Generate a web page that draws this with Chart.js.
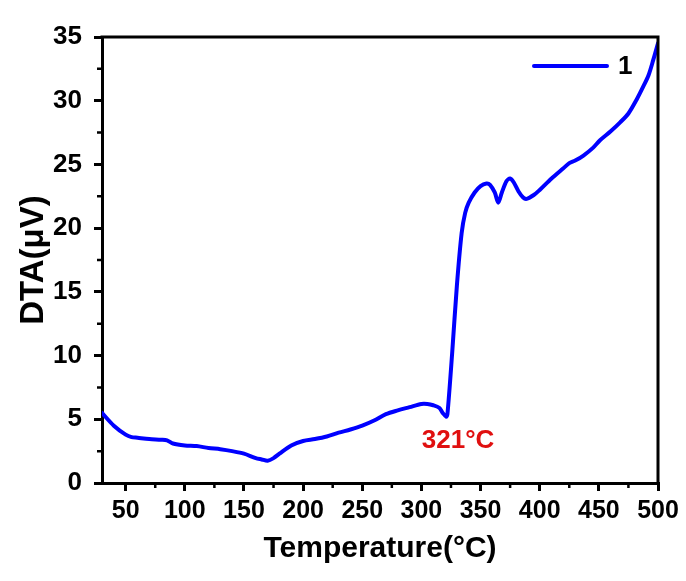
<!DOCTYPE html>
<html lang="en">
<head>
<meta charset="UTF-8">
<title>DTA</title>
<script src="https://cdn.jsdelivr.net/npm/chart.js@4.4.0/dist/chart.umd.min.js"></script>
<style>
    body { margin: 0; background: #fff; }
</style>
</head>
<body>
<canvas id="myChart" width="686" height="581"></canvas>
<script>
// values
const temps = [30, 40, 50, 55, 60, 70, 80, 85, 90, 100, 110, 120, 130, 140, 150, 160, 165, 170, 175, 180,
    190, 200, 210, 220, 230, 240, 250, 260, 270, 280, 290, 300, 305, 310, 315, 318, 321, 322, 326, 330,
    334, 337, 340, 345, 350, 355, 358, 362, 365, 368, 372, 375, 378, 382, 386, 389, 395, 400, 410, 420,
    425, 430, 437, 445, 451, 460, 468, 475, 482, 488, 492, 496, 500];
const dta = [5.5, 4.5, 3.8, 3.6, 3.55, 3.45, 3.4, 3.35, 3.1, 2.95, 2.9, 2.75, 2.65, 2.5, 2.3, 1.95, 1.85, 1.75, 1.95, 2.3,
    2.95, 3.3, 3.45, 3.65, 3.95, 4.2, 4.5, 4.9, 5.4, 5.7, 5.95, 6.2, 6.2, 6.1, 5.9, 5.5, 5.2, 5.4, 10.2, 15.5,
    19.6, 21.2, 22.0, 22.8, 23.3, 23.5, 23.4, 22.8, 22.0, 22.8, 23.7, 23.9, 23.6, 22.9, 22.4, 22.3, 22.6, 23.0, 23.9, 24.7,
    25.1, 25.3, 25.7, 26.3, 26.9, 27.6, 28.3, 29.0, 30.1, 31.2, 32.0, 33.2, 34.5];

const xTicks = [50, 100, 150, 200, 250, 300, 350, 400, 450, 500];
const xMinor = [75, 125, 175, 225, 275, 325, 375, 425, 475];
const yTicks = [0, 5, 10, 15, 20, 25, 30, 35];
const yMinor = [2.5, 7.5, 12.5, 17.5, 22.5, 27.5, 32.5];

const seriesName = '1';
const peakText = '321°C';
const peakPos = [331, 3.3];

Chart.defaults.font.family = '"Liberation Sans", Arial, sans-serif';
Chart.defaults.font.weight = 'bold';
Chart.defaults.color = '#000';

// top/right frame, minor ticks, legend inside the box and the red label
const extras = {
    id: 'extras',
    beforeDraw(chart) {
        const ctx = chart.ctx;
        ctx.save();
        ctx.fillStyle = '#fff';
        ctx.fillRect(0, 0, chart.width, chart.height);
        ctx.restore();
    },
    afterDraw(chart) {
        const ctx = chart.ctx;
        const a = chart.chartArea;
        const x = chart.scales.x, y = chart.scales.y;
        ctx.save();
        ctx.strokeStyle = '#000';
        ctx.lineWidth = 3;
        ctx.beginPath();
        ctx.moveTo(a.left - 1.5, a.top);
        ctx.lineTo(a.right, a.top);
        ctx.lineTo(a.right, a.bottom + 1.5);
        ctx.stroke();

        ctx.lineWidth = 2.5;
        ctx.beginPath();
        xMinor.forEach(v => {
            const px = x.getPixelForValue(v);
            ctx.moveTo(px, a.bottom);
            ctx.lineTo(px, a.bottom + 5);
        });
        yMinor.forEach(v => {
            const py = y.getPixelForValue(v);
            ctx.moveTo(a.left, py);
            ctx.lineTo(a.left - 5, py);
        });
        ctx.stroke();

        // legend
        const ds = chart.data.datasets[0];
        const ly = a.top + 29;
        ctx.strokeStyle = ds.borderColor;
        ctx.lineWidth = ds.borderWidth;
        ctx.lineCap = 'round';
        ctx.beginPath();
        ctx.moveTo(a.right - 124, ly);
        ctx.lineTo(a.right - 51, ly);
        ctx.stroke();
        ctx.fillStyle = '#000';
        ctx.font = 'bold 26px "Liberation Sans", Arial, sans-serif';
        ctx.textAlign = 'left';
        ctx.textBaseline = 'middle';
        ctx.fillText(ds.label, a.right - 40, ly + 1);

        ctx.fillStyle = '#e01010';
        ctx.font = 'bold 26px "Liberation Sans", Arial, sans-serif';
        ctx.textAlign = 'center';
        ctx.fillText(peakText, x.getPixelForValue(peakPos[0]), y.getPixelForValue(peakPos[1]));
        ctx.restore();
    }
};

const points = temps.map((t, i) => ({ x: t, y: dta[i] }));

const ctx = document.getElementById('myChart').getContext('2d');
const myChart = new Chart(ctx, {
    type: 'line',
    data: {
        datasets: [{
            label: seriesName,
            data: points,
            borderColor: '#0000ff',
            backgroundColor: '#0000ff',
            borderWidth: 4,
            borderCapStyle: 'round',
            borderJoinStyle: 'round',
            pointRadius: 0,
            tension: 0.3,
            fill: false
        }]
    },
    options: {
        responsive: false,
        animation: false,
        layout: { padding: { top: 37, right: 28, left: 0, bottom: 0 } },
        plugins: {
            legend: { display: false },
            tooltip: { enabled: false }
        },
        scales: {
            x: {
                type: 'linear',
                min: 30,
                max: 500,
                afterBuildTicks: s => { s.ticks = xTicks.map(v => ({ value: v })); },
                afterFit: s => { s.height = 98; },
                ticks: { font: { size: 25, weight: 'bold' }, color: '#000', padding: 5, maxRotation: 0 },
                grid: { drawOnChartArea: false, drawTicks: true, tickLength: 8, color: '#000', lineWidth: 3 },
                border: { display: true, color: '#000', width: 3 },
                title: { display: true, text: 'Temperature(°C)', font: { size: 30, weight: 'bold' }, color: '#000', padding: { top: 0, bottom: 14 } }
            },
            y: {
                min: 0,
                max: 35,
                afterBuildTicks: s => { s.ticks = yTicks.map(v => ({ value: v })); },
                afterFit: s => { s.width = 102; },
                ticks: { font: { size: 26, weight: 'bold' }, color: '#000', padding: 12 },
                grid: { drawOnChartArea: false, drawTicks: true, tickLength: 8, color: '#000', lineWidth: 3 },
                border: { display: true, color: '#000', width: 3 },
                title: { display: true, text: 'DTA(μV)', font: { size: 33, weight: 'bold' }, color: '#000', padding: { top: 14, bottom: 0 } }
            }
        }
    },
    plugins: [extras]
});
</script>
</body>
</html>
